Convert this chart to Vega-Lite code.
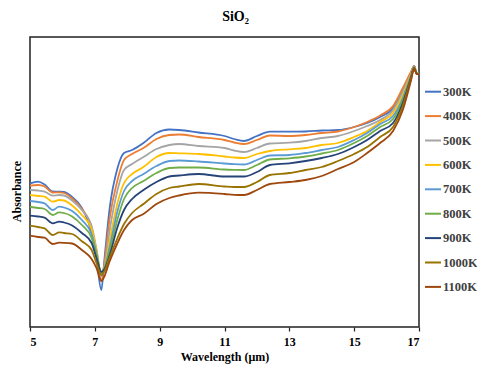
{
  "$schema": "https://vega.github.io/schema/vega-lite/v6.json",
  "width": 389,
  "height": 290,
  "autosize": {"type": "none"},
  "padding": {"left": 30, "top": 37, "right": 58, "bottom": 40},
  "title": {"text": "SiO₂", "font": "Times New Roman, Liberation Serif, serif", "fontSize": 14, "fontWeight": "bold", "color": "#000", "anchor": "middle", "dx": 11, "offset": 13},
  "config": {"view": {"stroke": "#222", "strokeWidth": 1.5}, "font": "Times New Roman, Liberation Serif, serif"},
  "datasets": {
    "spec": [
      {"w":5.0,"T":"300K","A":1.437},{"w":5.25,"T":"300K","A":1.453},{"w":5.45,"T":"300K","A":1.425},{"w":5.7,"T":"300K","A":1.355},{"w":5.9,"T":"300K","A":1.353},{"w":6.05,"T":"300K","A":1.35},{"w":6.3,"T":"300K","A":1.30},{"w":6.6,"T":"300K","A":1.19},{"w":6.9,"T":"300K","A":0.94},{"w":7.05,"T":"300K","A":0.69},{"w":7.2,"T":"300K","A":0.37},{"w":7.3,"T":"300K","A":0.69},{"w":7.45,"T":"300K","A":1.17},{"w":7.7,"T":"300K","A":1.59},{"w":7.9,"T":"300K","A":1.74},{"w":8.15,"T":"300K","A":1.77},{"w":8.5,"T":"300K","A":1.84},{"w":8.9,"T":"300K","A":1.94},{"w":9.3,"T":"300K","A":1.975},{"w":9.6,"T":"300K","A":1.97},{"w":10.2,"T":"300K","A":1.945},{"w":11.0,"T":"300K","A":1.91},{"w":11.3,"T":"300K","A":1.88},{"w":11.6,"T":"300K","A":1.86},{"w":12.0,"T":"300K","A":1.91},{"w":12.4,"T":"300K","A":1.953},{"w":13.0,"T":"300K","A":1.953},{"w":13.5,"T":"300K","A":1.955},{"w":14.0,"T":"300K","A":1.965},{"w":14.5,"T":"300K","A":1.97},{"w":15.0,"T":"300K","A":2.00},{"w":15.4,"T":"300K","A":2.04},{"w":15.8,"T":"300K","A":2.10},{"w":16.2,"T":"300K","A":2.19},{"w":16.5,"T":"300K","A":2.37},{"w":16.75,"T":"300K","A":2.54},{"w":16.85,"T":"300K","A":2.61},{"w":16.93,"T":"300K","A":2.54},{"w":17.0,"T":"300K","A":2.55},

      {"w":5.0,"T":"400K","A":1.413},{"w":5.25,"T":"400K","A":1.42},{"w":5.45,"T":"400K","A":1.405},{"w":5.7,"T":"400K","A":1.345},{"w":5.9,"T":"400K","A":1.347},{"w":6.05,"T":"400K","A":1.34},{"w":6.3,"T":"400K","A":1.285},{"w":6.6,"T":"400K","A":1.18},{"w":6.9,"T":"400K","A":0.99},{"w":7.05,"T":"400K","A":0.75},{"w":7.2,"T":"400K","A":0.47},{"w":7.3,"T":"400K","A":0.65},{"w":7.45,"T":"400K","A":1.07},{"w":7.7,"T":"400K","A":1.47},{"w":7.9,"T":"400K","A":1.67},{"w":8.15,"T":"400K","A":1.73},{"w":8.5,"T":"400K","A":1.79},{"w":8.9,"T":"400K","A":1.88},{"w":9.3,"T":"400K","A":1.92},{"w":9.6,"T":"400K","A":1.925},{"w":10.2,"T":"400K","A":1.90},{"w":11.0,"T":"400K","A":1.87},{"w":11.3,"T":"400K","A":1.845},{"w":11.6,"T":"400K","A":1.83},{"w":12.0,"T":"400K","A":1.87},{"w":12.4,"T":"400K","A":1.915},{"w":13.0,"T":"400K","A":1.91},{"w":13.5,"T":"400K","A":1.92},{"w":14.0,"T":"400K","A":1.94},{"w":14.5,"T":"400K","A":1.955},{"w":15.0,"T":"400K","A":2.00},{"w":15.4,"T":"400K","A":2.05},{"w":15.8,"T":"400K","A":2.115},{"w":16.2,"T":"400K","A":2.21},{"w":16.5,"T":"400K","A":2.39},{"w":16.75,"T":"400K","A":2.55},{"w":16.85,"T":"400K","A":2.61},{"w":16.93,"T":"400K","A":2.54},{"w":17.0,"T":"400K","A":2.545},

      {"w":5.0,"T":"500K","A":1.37},{"w":5.25,"T":"500K","A":1.365},{"w":5.45,"T":"500K","A":1.353},{"w":5.7,"T":"500K","A":1.313},{"w":5.9,"T":"500K","A":1.32},{"w":6.05,"T":"500K","A":1.315},{"w":6.3,"T":"500K","A":1.265},{"w":6.6,"T":"500K","A":1.17},{"w":6.9,"T":"500K","A":1.01},{"w":7.05,"T":"500K","A":0.78},{"w":7.2,"T":"500K","A":0.51},{"w":7.3,"T":"500K","A":0.61},{"w":7.45,"T":"500K","A":0.95},{"w":7.7,"T":"500K","A":1.37},{"w":7.9,"T":"500K","A":1.57},{"w":8.15,"T":"500K","A":1.63},{"w":8.5,"T":"500K","A":1.70},{"w":8.9,"T":"500K","A":1.78},{"w":9.3,"T":"500K","A":1.82},{"w":9.6,"T":"500K","A":1.83},{"w":10.2,"T":"500K","A":1.81},{"w":11.0,"T":"500K","A":1.79},{"w":11.3,"T":"500K","A":1.765},{"w":11.6,"T":"500K","A":1.75},{"w":12.0,"T":"500K","A":1.79},{"w":12.4,"T":"500K","A":1.835},{"w":13.0,"T":"500K","A":1.843},{"w":13.5,"T":"500K","A":1.86},{"w":14.0,"T":"500K","A":1.89},{"w":14.5,"T":"500K","A":1.91},{"w":15.0,"T":"500K","A":1.96},{"w":15.4,"T":"500K","A":2.01},{"w":15.8,"T":"500K","A":2.07},{"w":16.2,"T":"500K","A":2.17},{"w":16.5,"T":"500K","A":2.35},{"w":16.75,"T":"500K","A":2.53},{"w":16.85,"T":"500K","A":2.605},{"w":16.93,"T":"500K","A":2.54},{"w":17.0,"T":"500K","A":2.54},

      {"w":5.0,"T":"600K","A":1.32},{"w":5.25,"T":"600K","A":1.31},{"w":5.45,"T":"600K","A":1.303},{"w":5.7,"T":"600K","A":1.253},{"w":5.9,"T":"600K","A":1.27},{"w":6.05,"T":"600K","A":1.265},{"w":6.3,"T":"600K","A":1.215},{"w":6.6,"T":"600K","A":1.12},{"w":6.9,"T":"600K","A":0.98},{"w":7.05,"T":"600K","A":0.77},{"w":7.2,"T":"600K","A":0.53},{"w":7.3,"T":"600K","A":0.59},{"w":7.45,"T":"600K","A":0.85},{"w":7.7,"T":"600K","A":1.24},{"w":7.9,"T":"600K","A":1.44},{"w":8.15,"T":"600K","A":1.53},{"w":8.5,"T":"600K","A":1.60},{"w":8.9,"T":"600K","A":1.70},{"w":9.3,"T":"600K","A":1.74},{"w":9.6,"T":"600K","A":1.737},{"w":10.2,"T":"600K","A":1.73},{"w":11.0,"T":"600K","A":1.705},{"w":11.3,"T":"600K","A":1.695},{"w":11.6,"T":"600K","A":1.69},{"w":12.0,"T":"600K","A":1.73},{"w":12.4,"T":"600K","A":1.76},{"w":13.0,"T":"600K","A":1.777},{"w":13.5,"T":"600K","A":1.79},{"w":14.0,"T":"600K","A":1.82},{"w":14.5,"T":"600K","A":1.84},{"w":15.0,"T":"600K","A":1.90},{"w":15.4,"T":"600K","A":1.96},{"w":15.8,"T":"600K","A":2.05},{"w":16.2,"T":"600K","A":2.14},{"w":16.5,"T":"600K","A":2.32},{"w":16.75,"T":"600K","A":2.52},{"w":16.85,"T":"600K","A":2.60},{"w":16.93,"T":"600K","A":2.535},{"w":17.0,"T":"600K","A":2.54},

      {"w":5.0,"T":"700K","A":1.26},{"w":5.25,"T":"700K","A":1.25},{"w":5.45,"T":"700K","A":1.237},{"w":5.7,"T":"700K","A":1.17},{"w":5.9,"T":"700K","A":1.203},{"w":6.05,"T":"700K","A":1.195},{"w":6.3,"T":"700K","A":1.16},{"w":6.6,"T":"700K","A":1.07},{"w":6.9,"T":"700K","A":0.93},{"w":7.05,"T":"700K","A":0.74},{"w":7.2,"T":"700K","A":0.54},{"w":7.3,"T":"700K","A":0.59},{"w":7.45,"T":"700K","A":0.79},{"w":7.7,"T":"700K","A":1.16},{"w":7.9,"T":"700K","A":1.36},{"w":8.15,"T":"700K","A":1.46},{"w":8.5,"T":"700K","A":1.53},{"w":8.9,"T":"700K","A":1.61},{"w":9.3,"T":"700K","A":1.66},{"w":9.6,"T":"700K","A":1.665},{"w":10.2,"T":"700K","A":1.655},{"w":11.0,"T":"700K","A":1.635},{"w":11.3,"T":"700K","A":1.628},{"w":11.6,"T":"700K","A":1.625},{"w":12.0,"T":"700K","A":1.67},{"w":12.4,"T":"700K","A":1.715},{"w":13.0,"T":"700K","A":1.72},{"w":13.5,"T":"700K","A":1.74},{"w":14.0,"T":"700K","A":1.77},{"w":14.5,"T":"700K","A":1.80},{"w":15.0,"T":"700K","A":1.87},{"w":15.4,"T":"700K","A":1.94},{"w":15.8,"T":"700K","A":2.03},{"w":16.2,"T":"700K","A":2.11},{"w":16.5,"T":"700K","A":2.29},{"w":16.75,"T":"700K","A":2.51},{"w":16.85,"T":"700K","A":2.60},{"w":16.93,"T":"700K","A":2.535},{"w":17.0,"T":"700K","A":2.54},

      {"w":5.0,"T":"800K","A":1.20},{"w":5.25,"T":"800K","A":1.19},{"w":5.45,"T":"800K","A":1.18},{"w":5.7,"T":"800K","A":1.12},{"w":5.9,"T":"800K","A":1.147},{"w":6.05,"T":"800K","A":1.14},{"w":6.3,"T":"800K","A":1.105},{"w":6.6,"T":"800K","A":1.02},{"w":6.9,"T":"800K","A":0.89},{"w":7.05,"T":"800K","A":0.72},{"w":7.2,"T":"800K","A":0.55},{"w":7.3,"T":"800K","A":0.59},{"w":7.45,"T":"800K","A":0.75},{"w":7.7,"T":"800K","A":1.08},{"w":7.9,"T":"800K","A":1.28},{"w":8.15,"T":"800K","A":1.39},{"w":8.5,"T":"800K","A":1.46},{"w":8.9,"T":"800K","A":1.54},{"w":9.3,"T":"800K","A":1.59},{"w":9.6,"T":"800K","A":1.595},{"w":10.2,"T":"800K","A":1.595},{"w":11.0,"T":"800K","A":1.575},{"w":11.3,"T":"800K","A":1.572},{"w":11.6,"T":"800K","A":1.57},{"w":12.0,"T":"800K","A":1.62},{"w":12.4,"T":"800K","A":1.675},{"w":13.0,"T":"800K","A":1.687},{"w":13.5,"T":"800K","A":1.705},{"w":14.0,"T":"800K","A":1.735},{"w":14.5,"T":"800K","A":1.77},{"w":15.0,"T":"800K","A":1.84},{"w":15.4,"T":"800K","A":1.91},{"w":15.8,"T":"800K","A":2.00},{"w":16.2,"T":"800K","A":2.08},{"w":16.5,"T":"800K","A":2.27},{"w":16.75,"T":"800K","A":2.50},{"w":16.85,"T":"800K","A":2.595},{"w":16.93,"T":"800K","A":2.535},{"w":17.0,"T":"800K","A":2.535},

      {"w":5.0,"T":"900K","A":1.113},{"w":5.25,"T":"900K","A":1.105},{"w":5.45,"T":"900K","A":1.093},{"w":5.7,"T":"900K","A":1.037},{"w":5.9,"T":"900K","A":1.053},{"w":6.05,"T":"900K","A":1.045},{"w":6.3,"T":"900K","A":1.015},{"w":6.6,"T":"900K","A":0.94},{"w":6.9,"T":"900K","A":0.84},{"w":7.05,"T":"900K","A":0.69},{"w":7.2,"T":"900K","A":0.55},{"w":7.3,"T":"900K","A":0.58},{"w":7.45,"T":"900K","A":0.71},{"w":7.7,"T":"900K","A":1.00},{"w":7.9,"T":"900K","A":1.17},{"w":8.15,"T":"900K","A":1.28},{"w":8.5,"T":"900K","A":1.37},{"w":8.9,"T":"900K","A":1.45},{"w":9.3,"T":"900K","A":1.505},{"w":9.6,"T":"900K","A":1.515},{"w":10.2,"T":"900K","A":1.53},{"w":11.0,"T":"900K","A":1.505},{"w":11.3,"T":"900K","A":1.505},{"w":11.6,"T":"900K","A":1.505},{"w":12.0,"T":"900K","A":1.55},{"w":12.4,"T":"900K","A":1.62},{"w":13.0,"T":"900K","A":1.637},{"w":13.5,"T":"900K","A":1.66},{"w":14.0,"T":"900K","A":1.69},{"w":14.5,"T":"900K","A":1.73},{"w":15.0,"T":"900K","A":1.80},{"w":15.4,"T":"900K","A":1.87},{"w":15.8,"T":"900K","A":1.96},{"w":16.2,"T":"900K","A":2.04},{"w":16.5,"T":"900K","A":2.24},{"w":16.75,"T":"900K","A":2.49},{"w":16.85,"T":"900K","A":2.59},{"w":16.93,"T":"900K","A":2.53},{"w":17.0,"T":"900K","A":2.535},

      {"w":5.0,"T":"1000K","A":1.013},{"w":5.25,"T":"1000K","A":1.00},{"w":5.45,"T":"1000K","A":0.987},{"w":5.7,"T":"1000K","A":0.92},{"w":5.9,"T":"1000K","A":0.947},{"w":6.05,"T":"1000K","A":0.94},{"w":6.3,"T":"1000K","A":0.93},{"w":6.6,"T":"1000K","A":0.857},{"w":6.9,"T":"1000K","A":0.77},{"w":7.05,"T":"1000K","A":0.64},{"w":7.2,"T":"1000K","A":0.52},{"w":7.3,"T":"1000K","A":0.56},{"w":7.45,"T":"1000K","A":0.69},{"w":7.7,"T":"1000K","A":0.89},{"w":7.9,"T":"1000K","A":1.03},{"w":8.15,"T":"1000K","A":1.14},{"w":8.5,"T":"1000K","A":1.23},{"w":8.9,"T":"1000K","A":1.33},{"w":9.3,"T":"1000K","A":1.39},{"w":9.6,"T":"1000K","A":1.405},{"w":10.2,"T":"1000K","A":1.43},{"w":11.0,"T":"1000K","A":1.405},{"w":11.3,"T":"1000K","A":1.40},{"w":11.6,"T":"1000K","A":1.40},{"w":12.0,"T":"1000K","A":1.45},{"w":12.4,"T":"1000K","A":1.52},{"w":13.0,"T":"1000K","A":1.54},{"w":13.5,"T":"1000K","A":1.57},{"w":14.0,"T":"1000K","A":1.60},{"w":14.5,"T":"1000K","A":1.66},{"w":15.0,"T":"1000K","A":1.73},{"w":15.4,"T":"1000K","A":1.80},{"w":15.8,"T":"1000K","A":1.90},{"w":16.2,"T":"1000K","A":2.00},{"w":16.5,"T":"1000K","A":2.21},{"w":16.75,"T":"1000K","A":2.48},{"w":16.85,"T":"1000K","A":2.59},{"w":16.93,"T":"1000K","A":2.53},{"w":17.0,"T":"1000K","A":2.53},

      {"w":5.0,"T":"1100K","A":0.913},{"w":5.25,"T":"1100K","A":0.90},{"w":5.45,"T":"1100K","A":0.893},{"w":5.7,"T":"1100K","A":0.83},{"w":5.9,"T":"1100K","A":0.843},{"w":6.05,"T":"1100K","A":0.842},{"w":6.3,"T":"1100K","A":0.835},{"w":6.6,"T":"1100K","A":0.77},{"w":6.9,"T":"1100K","A":0.68},{"w":7.05,"T":"1100K","A":0.59},{"w":7.2,"T":"1100K","A":0.46},{"w":7.3,"T":"1100K","A":0.51},{"w":7.45,"T":"1100K","A":0.65},{"w":7.7,"T":"1100K","A":0.84},{"w":7.9,"T":"1100K","A":0.97},{"w":8.15,"T":"1100K","A":1.07},{"w":8.5,"T":"1100K","A":1.13},{"w":8.9,"T":"1100K","A":1.23},{"w":9.3,"T":"1100K","A":1.29},{"w":9.6,"T":"1100K","A":1.315},{"w":10.2,"T":"1100K","A":1.343},{"w":11.0,"T":"1100K","A":1.33},{"w":11.3,"T":"1100K","A":1.322},{"w":11.6,"T":"1100K","A":1.32},{"w":12.0,"T":"1100K","A":1.37},{"w":12.4,"T":"1100K","A":1.43},{"w":13.0,"T":"1100K","A":1.45},{"w":13.5,"T":"1100K","A":1.47},{"w":14.0,"T":"1100K","A":1.51},{"w":14.5,"T":"1100K","A":1.58},{"w":15.0,"T":"1100K","A":1.65},{"w":15.4,"T":"1100K","A":1.74},{"w":15.8,"T":"1100K","A":1.84},{"w":16.2,"T":"1100K","A":1.96},{"w":16.5,"T":"1100K","A":2.17},{"w":16.75,"T":"1100K","A":2.46},{"w":16.85,"T":"1100K","A":2.585},{"w":16.93,"T":"1100K","A":2.53},{"w":17.0,"T":"1100K","A":2.53}
    ]
  },
  "data": {"name": "spec"},
  "mark": {"type": "line", "strokeWidth": 1.8, "interpolate": "monotone"},
  "encoding": {
    "x": {
      "field": "w", "type": "quantitative",
      "scale": {"domain": [5, 17], "nice": false},
      "axis": {
        "values": [5, 7, 9, 11, 13, 15, 17], "title": "Wavelength (μm)", "grid": false, "domain": false,
        "tickColor": "#222", "tickSize": 4, "tickWidth": 1.2,
        "labelFont": "Times New Roman, Liberation Serif, serif", "labelFontWeight": "bold", "labelFontSize": 12, "labelColor": "#000", "labelPadding": 5,
        "titleFont": "Times New Roman, Liberation Serif, serif", "titleFontWeight": "bold", "titleFontSize": 12, "titleColor": "#000", "titlePadding": 4
      }
    },
    "y": {
      "field": "A", "type": "quantitative",
      "scale": {"domain": [0, 2.9], "nice": false, "zero": false},
      "axis": {
        "title": "Absorbance", "labels": false, "ticks": false, "grid": false, "domain": false,
        "titleFont": "Times New Roman, Liberation Serif, serif", "titleFontWeight": "bold", "titleFontSize": 12, "titleColor": "#000",
        "titleX": -14, "titleY": 154, "titleBaseline": "middle", "titleAngle": -90
      }
    },
    "color": {
      "field": "T", "type": "nominal",
      "scale": {
        "domain": ["300K", "400K", "500K", "600K", "700K", "800K", "900K", "1000K", "1100K"],
        "range": ["#4472C4", "#ED7D31", "#A5A5A5", "#FFC000", "#5B9BD5", "#70AD47", "#264478", "#997300", "#9E480E"]
      },
      "legend": {
        "orient": "none", "legendX": 394, "legendY": 45.7, "title": null, "padding": 0,
        "symbolType": "stroke", "symbolSize": 256, "symbolStrokeWidth": 2, "rowPadding": 8.4,
        "labelFont": "Times New Roman, Liberation Serif, serif", "labelFontWeight": "bold", "labelFontSize": 12.5, "labelColor": "#404040", "labelOffset": 1
      }
    }
  }
}
